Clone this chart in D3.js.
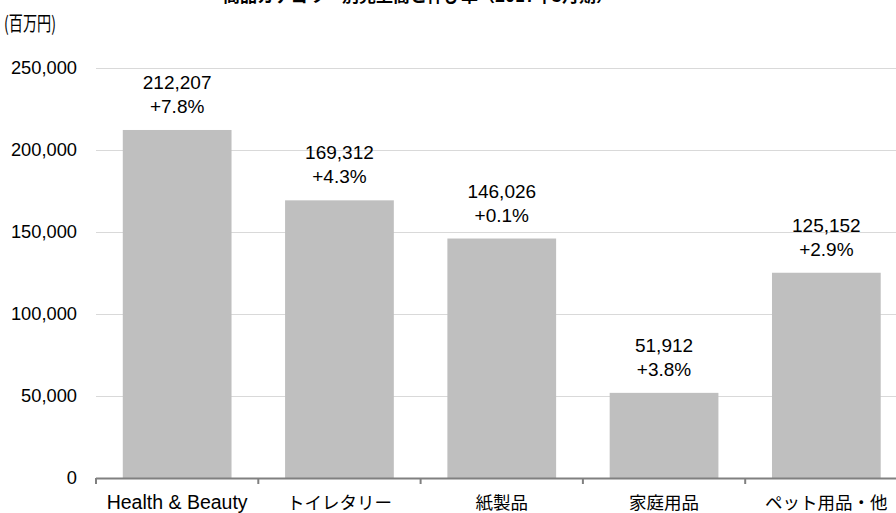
<!DOCTYPE html>
<html>
<head>
<meta charset="utf-8">
<script src="https://cdn.jsdelivr.net/npm/d3@7/dist/d3.min.js"></script>
<style>
  html, body { margin: 0; padding: 0; background: #fff; overflow: hidden; }
  svg text { font-family: "Liberation Sans", Arial, "Noto Sans CJK JP", sans-serif; fill: #000; }
  .jp { font-family: "Noto Sans CJK JP", "Liberation Sans", sans-serif; }
</style>
</head>
<body>
<svg id="chart" width="896" height="513"></svg>
<script>
// Sales by product category (million yen) and year-on-year growth
const categories = ["Health & Beauty", "トイレタリー", "紙製品", "家庭用品", "ペット用品・他"];
const sales = [212207, 169312, 146026, 51912, 125152];
const growth = ["+7.8%", "+4.3%", "+0.1%", "+3.8%", "+2.9%"];
const yTicks = [0, 50000, 100000, 150000, 200000, 250000];
const titleText = "商品カテゴリー別売上高と伸び率（2017年3月期）";
const unitText = "(百万円)";

const svg = d3.select("#chart");
const W = 896, H = 513;
const plot = { left: 96, right: 907.5, top: 68, bottom: 478 };

const x = d3.scaleBand()
  .domain(categories)
  .range([plot.left, plot.right])
  .paddingInner(0.33)
  .paddingOuter(0.165);

const y = d3.scaleLinear()
  .domain([0, 250000])
  .range([plot.bottom, plot.top]);

const fmt = d3.format(",");

// title (runs off the top edge)
svg.append("text")
  .attr("class", "jp")
  .attr("x", 418)
  .attr("y", 2)
  .attr("text-anchor", "middle")
  .attr("font-size", 17)
  .attr("font-weight", "bold")
  .text(titleText);

// unit label, condensed
svg.append("text")
  .attr("class", "jp")
  .attr("x", 4)
  .attr("y", 31)
  .attr("font-size", 20)
  .attr("textLength", 52)
  .attr("lengthAdjust", "spacingAndGlyphs")
  .text(unitText);

// horizontal gridlines
svg.append("g")
  .selectAll("line")
  .data(yTicks.filter(d => d > 0))
  .join("line")
  .attr("x1", plot.left)
  .attr("x2", W)
  .attr("y1", d => Math.round(y(d)) + 0.5)
  .attr("y2", d => Math.round(y(d)) + 0.5)
  .attr("stroke", "#d9d9d9")
  .attr("stroke-width", 1);

// y axis labels
const yAxis = d3.axisLeft(y)
  .tickValues(yTicks)
  .tickFormat(fmt)
  .tickSize(0)
  .tickPadding(0);

const gy = svg.append("g")
  .attr("transform", `translate(77,0)`)
  .call(yAxis);
gy.select(".domain").remove();
gy.selectAll("text")
  .attr("font-size", 18.3)
  .attr("font-family", "'Liberation Sans', Arial, sans-serif")
  .attr("fill", "#000");

// bars
svg.append("g")
  .selectAll("rect")
  .data(categories)
  .join("rect")
  .attr("x", d => x(d))
  .attr("width", x.bandwidth())
  .attr("y", (d, i) => y(sales[i]))
  .attr("height", (d, i) => y(0) - y(sales[i]))
  .attr("fill", "#bfbfbf");

// value labels
const labels = svg.append("g")
  .selectAll("g")
  .data(categories)
  .join("g")
  .attr("transform", (d, i) => `translate(${x(d) + x.bandwidth() / 2},${y(sales[i])})`);
labels.append("text")
  .attr("y", -41)
  .attr("text-anchor", "middle")
  .attr("font-size", 19)
  .text((d, i) => fmt(sales[i]));
labels.append("text")
  .attr("y", -17)
  .attr("text-anchor", "middle")
  .attr("font-size", 19)
  .text((d, i) => growth[i]);

// x axis baseline with category ticks between bands
const step = x.step();
const boundaries = d3.range(categories.length + 1).map(i => plot.left + i * step);
const gx = svg.append("g");
gx.append("line")
  .attr("x1", plot.left)
  .attr("x2", W)
  .attr("y1", plot.bottom + 0.5)
  .attr("y2", plot.bottom + 0.5)
  .attr("stroke", "#808080")
  .attr("stroke-width", 2);
gx.selectAll("line.tick")
  .data(boundaries)
  .join("line")
  .attr("class", "tick")
  .attr("x1", d => d)
  .attr("x2", d => d)
  .attr("y1", plot.bottom)
  .attr("y2", plot.bottom + 6)
  .attr("stroke", "#808080")
  .attr("stroke-width", 2);

gx.selectAll("text")
  .data(categories)
  .join("text")
  .attr("class", (d, i) => i === 0 ? null : "jp")
  .attr("x", d => x(d) + x.bandwidth() / 2)
  .attr("y", 509)
  .attr("text-anchor", "middle")
  .attr("font-size", (d, i) => i === 0 ? 19.5 : 17.5)
  .text(d => d);
</script>
</body>
</html>
